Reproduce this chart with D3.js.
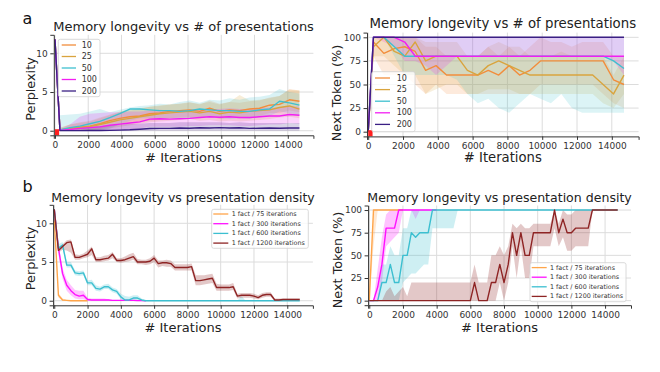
<!DOCTYPE html>
<html>
<head>
<meta charset="utf-8">
<script src="https://cdn.jsdelivr.net/npm/d3@7"></script>
<style>
  body { margin: 0; background: #fff; }
  svg { display: block; font-family: "DejaVu Sans", sans-serif; }
</style>
</head>
<body>
<script>
// ---- panel a: sampled every 600 iterations ----
const itersA = [0,300,900,1500,2100,2700,3300,3900,4500,5100,5700,6300,6900,7500,8100,8700,9300,9900,10500,11100,11700,12300,12900,13500,14100,14700]

const pplx10   = [11.8,0.1,0.3,0.45,0.6,0.9,1.3,1.6,1.8,1.9,2.2,2.3,2.5,2.6,2.7,2.5,2.9,2.5,2.7,2.6,2.8,2.9,3.3,3.4,4.0,3.8]
const pplx10Lo = [11.8,0,0,0,0,0.2,0.5,0.8,1.0,1.1,1.3,1.4,1.6,1.7,1.7,1.6,1.9,1.5,1.7,1.6,1.8,1.9,2.3,2.3,2.6,2.4]
const pplx10Hi = [11.8,0.4,0.8,1.0,1.2,1.6,2.0,2.4,2.6,2.8,3.1,3.2,3.4,3.5,3.7,3.4,3.9,3.5,3.7,3.6,3.8,3.9,4.3,4.5,5.4,5.2]
const pplx25   = [11.8,0.1,0.25,0.4,0.55,0.8,1.1,1.4,1.6,1.8,2.0,2.2,2.3,2.4,2.5,2.3,2.5,2.2,2.4,2.3,2.5,2.6,2.7,3.0,3.2,2.8]
const pplx25Lo = [11.8,0,0,0,0,0.1,0.3,0.5,0.7,0.9,1.1,1.2,1.3,1.4,1.5,1.3,1.4,1.2,1.3,1.2,1.3,1.4,1.5,1.7,1.8,1.6]
const pplx25Hi = [11.8,0.4,0.8,1.1,1.3,1.7,2.1,2.5,2.7,2.9,3.1,3.3,3.4,3.5,3.6,3.5,3.7,3.4,3.7,4.6,3.9,4.0,4.2,4.5,5.3,5.2]
const pplx50   = [11.8,0.1,0.4,0.6,0.9,1.2,1.7,2.2,2.8,2.8,2.7,2.6,2.6,2.5,2.6,2.8,2.7,2.6,2.6,2.5,2.5,2.7,2.8,3.8,3.6,3.3]
const pplx50Lo = [11.8,0,0,0,0,0,0.3,0.8,1.3,1.6,1.6,1.5,1.6,1.5,1.6,1.8,1.7,1.6,1.5,1.6,1.5,1.8,1.9,2.5,2.3,2.0]
const pplx50Hi = [11.8,2.0,2.1,2.2,2.5,2.8,2.4,2.7,3.0,3.2,3.3,3.5,3.4,3.7,3.9,3.6,4.0,3.9,4.2,4.0,4.3,4.4,4.6,5.4,5.0,4.8]
const pplx100   = [11.8,0.05,0.15,0.3,0.4,0.5,0.7,0.85,1.0,1.15,1.5,1.55,1.5,1.55,1.6,1.7,1.8,1.75,1.8,1.7,1.7,1.8,1.9,1.9,2.1,2.0]
const pplx100Lo = [11.8,0,0,0,0,0,0,0.1,0.2,0.3,0.5,0.5,0.5,0.5,0.6,0.6,0.7,0.7,0.7,0.6,0.6,0.7,0.8,0.8,1.0,0.9]
const pplx100Hi = [11.8,0.2,0.8,1.8,2.2,2.3,2.4,2.4,2.5,2.5,2.6,2.7,2.6,2.6,2.7,2.8,2.8,2.8,2.9,2.8,2.8,2.9,3.0,3.0,3.2,3.1]
const pplx200   = [11.8,0.02,0.02,0.02,0.03,0.03,0.05,0.08,0.12,0.2,0.28,0.3,0.3,0.35,0.33,0.38,0.35,0.4,0.35,0.38,0.3,0.32,0.35,0.33,0.35,0.35]
const pplx200Lo = [11.8,0,0,0,0,0,0,0,0,0,0,0,0,0,0,0,0,0,0,0,0,0,0,0,0,0]
const pplx200Hi = [11.8,0.1,0.1,0.3,0.5,0.6,0.7,0.8,0.9,0.9,1.0,1.0,1.0,1.1,1.1,1.1,1.1,1.1,1.0,1.1,1.0,1.0,1.0,1.0,1.0,1.0]

const tok10   = [0,95,83,88,90,85,65,70,60,60,60,60,65,60,70,60,65,75,75,75,75,75,75,75,55,50]
const tok10Lo = [0,80,60,60,60,50,40,50,40,40,40,40,40,40,40,40,40,50,50,50,50,50,50,40,30,25]
const tok10Hi = [0,100,100,100,100,100,90,90,80,80,80,80,90,80,90,80,90,100,95,95,90,95,95,95,80,80]
const tok25   = [0,90,100,85,80,95,75,80,80,80,65,60,70,75,70,65,60,60,60,60,60,60,60,50,40,60]
const tok25Lo = [0,80,80,70,60,60,40,45,50,50,40,40,45,45,45,40,40,40,40,40,40,40,40,30,25,40]
const tok25Hi = [0,100,100,100,100,100,95,95,95,95,80,80,90,95,90,90,80,80,80,85,80,80,80,80,60,80]
const tok50   = [0,100,100,90,80,80,80,80,80,80,80,80,80,80,80,80,80,80,80,80,80,80,80,80,75,67]
const tok50Lo = [0,100,100,80,60,60,60,60,60,55,40,30,35,25,20,30,40,35,30,40,25,20,20,20,20,20]
const tok50Hi = [0,100,100,100,100,100,100,100,100,100,100,100,100,100,100,100,100,100,100,100,100,100,100,100,100,100]
const tok100   = [0,100,100,100,95,80,80,80,80,80,80,80,80,80,80,80,80,80,80,80,80,80,80,80,80,80]
const tok100Lo = [0,100,95,90,75,75,70,60,70,80,80,80,80,80,80,80,80,80,80,80,80,80,80,80,75,60]
const tok100Hi = [0,100,100,100,100,100,100,100,100,100,100,100,100,100,100,100,100,100,100,100,100,100,100,100,100,100]
const tok200   = [0,100,100,100,100,100,100,100,100,100,100,100,100,100,100,100,100,100,100,100,100,100,100,100,100,100]

const presentations = ["10", "25", "50", "100", "200"]
const startMark = [0, 250]

// ---- panel b: sampled every 250 iterations ----
const itersB = [0,250,500,750,1000,1250,1500,1750,2000,2250,2500,2750,3000,3250,3500,3750,4000,4250,4500,4750,5000,5250,5500,5750,6000,6250,6500,6750,7000,7250,7500,7750,8000,8250,8500,8750,9000,9250,9500,9750,10000,10250,10500,10750,11000,11250,11500,11750,12000,12250,12500,12750,13000,13250,13500,13750,14000,14250,14500,14750]

const dens75   = [10.5,0.7,0.1,0.05,0,0,0,0,0]
const dens75Lo = [10.5,0.4,0,0,0,0,0,0,0]
const dens75Hi = [10.5,1.0,0.3,0.1,0,0,0,0,0]
const dens300   = [11.8,6.8,3.5,2.0,1.3,0.8,0.6,0.7,0.15,0.1,0.1,0.1,0.1,0.1,0.05,0.05,0.05,0.05,0.05,0.05,0.02,0.02,0]
const dens300Lo = [11.8,6.0,2.8,1.3,0.7,0.3,0.2,0.2,0,0,0,0,0,0,0,0,0,0,0,0,0,0,0]
const dens300Hi = [11.8,7.5,4.2,2.7,2.0,1.4,1.3,1.3,0.4,0.3,0.3,0.3,0.3,0.2,0.1,0.1,0.1,0.1,0.1,0.1,0.05,0.05,0]
const dens600   = [11.8,6.8,7.2,4.6,4.6,3.6,3.5,3.6,2.3,2.3,1.6,1.5,1.8,1.8,1.4,1.2,0.5,0.1,0.1,0.35,0.35,0.1,0,0,0,0,0,0,0,0,0,0,0,0,0,0,0,0,0,0,0,0,0,0,0,0,0,0,0,0,0,0,0,0,0,0,0,0,0,0]
const dens600Lo = [11.8,6.4,6.8,4.3,4.3,3.3,3.2,3.3,2.0,2.0,1.3,1.2,1.5,1.5,1.1,0.9,0.2,0,0,0,0,0,0,0,0,0,0,0,0,0,0,0,0,0,0,0,0,0,0,0,0,0,0,0,0,0,0,0,0,0,0,0,0,0,0,0,0,0,0,0]
const dens600Hi = [11.8,7.3,7.6,5.0,5.0,3.9,3.8,3.9,2.6,2.7,2.0,1.8,2.1,2.2,1.7,1.5,0.9,0.6,0.5,0.7,0.7,0.3,0,0,0,0,0,0,0,0,0,0,0,0,0,0,0,0,0,0,0,0,0,0,0,0.6,0,0,0,0,0,0,0,0,0,0,0,0,0,0]
const dens1200   = [11.8,6.5,7.0,7.5,7.6,5.6,5.6,5.8,6.0,6.7,5.3,5.3,5.4,5.5,6.0,5.2,5.2,5.3,5.5,5.7,5.0,5.0,5.0,5.1,5.5,4.8,4.9,4.9,4.8,4.3,4.3,4.3,4.3,4.4,2.6,2.6,2.7,2.8,2.9,1.7,1.7,1.7,1.7,1.8,0.6,0.7,0.7,0.7,0.6,0.4,0.7,0.8,0.8,0.1,0.1,0.15,0.15,0.15,0.15,0.15]
const dens1200Lo = [11.8,6.2,6.6,6.5,6.2,5.3,5.3,5.5,5.6,5.9,5.0,5.0,5.1,5.2,5.5,5.0,4.9,5.0,5.1,5.3,4.7,4.7,4.6,4.7,5.0,4.3,4.5,4.4,4.4,3.9,3.9,3.9,3.9,3.9,2.0,2.0,2.1,2.2,2.3,1.3,1.3,1.3,1.3,1.4,0.3,0.4,0.4,0.4,0.3,0.2,0.4,0.5,0.5,0,0,0,0,0,0,0]
const dens1200Hi = [11.8,6.8,7.3,7.8,7.9,6.0,5.9,6.1,6.5,7.0,5.6,5.6,5.8,5.9,6.3,5.5,5.5,5.7,6.0,6.2,5.4,5.3,5.3,5.5,5.9,5.2,5.2,5.3,5.2,4.7,4.7,4.7,4.7,4.8,3.3,3.3,3.3,3.4,3.5,2.2,2.1,2.1,2.1,2.3,0.9,1.0,1.0,1.0,0.9,0.7,1.0,1.1,1.1,0.3,0.3,0.3,0.3,0.3,0.3,0.3]

const nt75   = [0,100,100,100,100,100,100,100,100]
const nt75Lo = [0,60,100,100,100,100,100,100,100]
const nt75Hi = [0,100,100,100,100,100,100,100,100]
const nt300   = [0,0,15,40,80,80,80,100,100,100,100,100,100,100,100,100,100]
const nt300Lo = [0,0,0,20,60,65,70,75,100,100,100,90,100,100,100,100,100]
const nt300Hi = [0,0,35,70,95,100,100,100,100,100,100,100,100,100,100,100,100]
const nt600   = [0,0,0,20,20,40,20,20,50,50,75,70,75,75,75,100,100,100,100,100,100,100,100,100,100,100,100,100,100,100,100,100,100,100,100,100,100,100,100,100,100,100,100,100,100,100,100,100,100,100,100,100,100,100,100,100,100,100,100,100]
const nt600Lo = [0,0,0,0,0,0,0,0,20,25,30,30,35,40,40,80,80,80,80,80,80,100,100,100,100,100,100,100,100,100,100,100,100,100,100,100,100,100,100,100,100,100,100,100,100,100,100,100,100,100,100,100,100,100,100,100,100,100,100,100]
const nt600Hi = [0,0,0,40,40,60,50,50,80,80,100,100,100,100,100,100,100,100,100,100,100,100,100,100,100,100,100,100,100,100,100,100,100,100,100,100,100,100,100,100,100,100,100,100,100,100,100,100,100,100,100,100,100,100,100,100,100,100,100,100]
const nt1200   = [0,0,0,0,0,0,0,0,0,0,0,0,0,0,0,0,0,0,0,0,0,0,0,0,0,20,0,0,0,20,20,40,20,40,75,50,75,50,50,75,75,75,75,75,100,75,90,75,75,80,80,80,80,100,100,100,100,100,100,100]
const nt1200Lo = [0,0,0,0,0,0,0,0,0,0,0,0,0,0,0,0,0,0,0,0,0,0,0,0,0,0,0,0,0,0,0,20,0,20,60,25,60,25,25,60,60,60,60,60,80,60,70,55,55,60,60,60,60,100,100,100,100,100,100,100]
const nt1200Hi = [0,0,0,0,10,15,5,10,15,5,20,20,20,20,20,20,20,20,20,20,20,20,20,20,20,40,20,20,20,50,50,60,50,60,85,80,85,80,80,85,85,85,85,85,100,85,100,95,95,100,100,100,100,100,100,100,100,100,100,100]

const densities = ["1 fact / 75 iterations", "1 fact / 300 iterations", "1 fact / 600 iterations", "1 fact / 1200 iterations"]

const xTicks = [0,2000,4000,6000,8000,10000,12000,14000]
const pplxTicks = [0,5,10]
const tokTicks = [0,25,50,75,100]

const colorsA = ["#f28d3c", "#d9a43e", "#3fc0cf", "#f21ef2", "#3a1f84"]
const colorsB = ["#ffa54a", "#ff10ff", "#3cbfd0", "#8e2424"]

const svg = d3.select("body").append("svg")
    .attr("width", 660)
    .attr("height", 372)

function draw_panel(p) {
  const x = d3.scaleLinear().domain([-70, 15540]).range([p.left, p.right])
  const y = d3.scaleLinear().domain(p.ydomain).range([p.bottom, p.top])
  const g = svg.append("g")

  // grid
  g.append("g").selectAll("line").data(xTicks).join("line")
    .attr("x1", d => x(d)).attr("x2", d => x(d))
    .attr("y1", p.top).attr("y2", p.bottom)
    .attr("stroke", "#dcdcdc").attr("stroke-width", 1)
  g.append("g").selectAll("line").data(p.yticks).join("line")
    .attr("x1", p.left).attr("x2", p.right)
    .attr("y1", d => y(d)).attr("y2", d => y(d))
    .attr("stroke", "#dcdcdc").attr("stroke-width", 1)

  const clip = "clip" + p.id
  g.append("clipPath").attr("id", clip).append("rect")
    .attr("x", p.left).attr("y", p.top)
    .attr("width", p.right - p.left).attr("height", p.bottom - p.top)

  const plot = g.append("g").attr("clip-path", `url(#${clip})`)

  // bands first
  p.series.forEach(s => {
    if (!s.lo) return
    const pts = s.lo.map((v, i) => ({x: p.iters[i], lo: v, hi: s.hi[i]}))
    plot.append("path")
      .datum(pts)
      .attr("fill", s.color)
      .attr("fill-opacity", p.bandAlpha)
      .attr("d", d3.area().x(d => x(d.x)).y0(d => y(d.lo)).y1(d => y(d.hi)))
  })
  // then lines
  p.series.forEach(s => {
    const pts = s.y.map((v, i) => ({x: p.iters[i], v: v}))
    plot.append("path")
      .datum(pts)
      .attr("fill", "none")
      .attr("stroke", s.color)
      .attr("stroke-width", 1.4)
      .attr("stroke-linejoin", "round")
      .attr("d", d3.line().x(d => x(d.x)).y(d => y(d.v)))
  })

  if (p.mark) {
    g.append("rect")
      .attr("x", x(startMark[0]))
      .attr("width", x(startMark[1]) - x(startMark[0]))
      .attr("y", y(0) - 1.5)
      .attr("height", p.bottom - y(0) + 1.5)
      .attr("fill", "#ff2020")
  }

  // axes
  const xa = g.append("g")
    .attr("transform", `translate(0,${p.bottom})`)
    .call(d3.axisBottom(x).tickValues(xTicks).tickFormat(d3.format("d"))
      .tickSizeOuter(0).tickSize(3.5).tickPadding(2.5))
  const ya = g.append("g")
    .attr("transform", `translate(${p.left},0)`)
    .call(d3.axisLeft(y).tickValues(p.yticks).tickFormat(d3.format("d"))
      .tickSizeOuter(0).tickSize(3.5).tickPadding(2.5))
  ;[xa, ya].forEach(a => {
    a.attr("font-family", "DejaVu Sans").attr("font-size", 9)
    a.selectAll("text").attr("fill", "#333")
    a.selectAll("line").attr("stroke", "#333")
    a.select(".domain").attr("stroke", "#333")
  })

  // texts
  g.append("text")
    .attr("x", (p.left + p.right) / 2).attr("y", p.titleY)
    .attr("text-anchor", "middle").attr("font-size", p.titleSize).attr("fill", "#222")
    .text(p.title)
  g.append("text")
    .attr("x", (p.left + p.right) / 2).attr("y", p.xlabelY)
    .attr("text-anchor", "middle").attr("font-size", p.xlabelSize).attr("fill", "#222")
    .text("# Iterations")
  g.append("text")
    .attr("transform", `translate(${p.ylabelX},${p.ylabelCY}) rotate(-90)`)
    .attr("text-anchor", "middle").attr("font-size", p.ylabelSize).attr("fill", "#222")
    .text(p.ylabel)

  // legend
  const L = p.legend
  const lg = g.append("g")
  lg.append("rect")
    .attr("x", L.x).attr("y", L.y).attr("width", L.w).attr("height", L.h)
    .attr("rx", 2).attr("fill", "#fff").attr("fill-opacity", 0.8)
    .attr("stroke", "#d0d0d0").attr("stroke-width", 0.8)
  p.series.forEach((s, i) => {
    const ry = L.row0 + i * L.step
    lg.append("line")
      .attr("x1", L.x + L.lineX0).attr("x2", L.x + L.lineX1)
      .attr("y1", ry).attr("y2", ry)
      .attr("stroke", s.color).attr("stroke-width", 1.3)
    lg.append("text")
      .attr("x", L.x + L.textX).attr("y", ry)
      .attr("dominant-baseline", "central")
      .attr("font-size", L.size).attr("fill", "#333")
      .text(s.name)
  })
}

const seriesA1 = [
  {y: pplx10, lo: pplx10Lo, hi: pplx10Hi},
  {y: pplx25, lo: pplx25Lo, hi: pplx25Hi},
  {y: pplx50, lo: pplx50Lo, hi: pplx50Hi},
  {y: pplx100, lo: pplx100Lo, hi: pplx100Hi},
  {y: pplx200, lo: pplx200Lo, hi: pplx200Hi},
].map((s, i) => ({...s, name: presentations[i], color: colorsA[i]}))

const seriesA2 = [
  {y: tok10, lo: tok10Lo, hi: tok10Hi},
  {y: tok25, lo: tok25Lo, hi: tok25Hi},
  {y: tok50, lo: tok50Lo, hi: tok50Hi},
  {y: tok100, lo: tok100Lo, hi: tok100Hi},
  {y: tok200},
].map((s, i) => ({...s, name: presentations[i], color: colorsA[i]}))

const seriesB1 = [
  {y: dens75, lo: dens75Lo, hi: dens75Hi},
  {y: dens300, lo: dens300Lo, hi: dens300Hi},
  {y: dens600, lo: dens600Lo, hi: dens600Hi},
  {y: dens1200, lo: dens1200Lo, hi: dens1200Hi},
].map((s, i) => ({...s, name: densities[i], color: colorsB[i]}))

const seriesB2 = [
  {y: nt75, lo: nt75Lo, hi: nt75Hi},
  {y: nt300, lo: nt300Lo, hi: nt300Hi},
  {y: nt600, lo: nt600Lo, hi: nt600Hi},
  {y: nt1200, lo: nt1200Lo, hi: nt1200Hi},
].map((s, i) => ({...s, name: densities[i], color: colorsB[i]}))

draw_panel({
  id: "a1", iters: itersA, series: seriesA1, mark: true, bandAlpha: 0.2,
  left: 53.8, right: 313.4, top: 34.8, bottom: 135.3,
  ydomain: [-0.59, 12.39], yticks: pplxTicks,
  title: "Memory longevity vs # of presentations", titleY: 30.5, titleSize: 13,
  xlabelY: 161.5, xlabelSize: 13, ylabel: "Perplexity", ylabelX: 34.5, ylabelCY: 89, ylabelSize: 12.8,
  legend: {x: 58.3, y: 39.3, w: 41.7, h: 57.4, row0: 45, step: 11.5, lineX0: 3.4, lineX1: 17.7, textX: 23.4, size: 8}
})

draw_panel({
  id: "a2", iters: itersA, series: seriesA2, mark: true, bandAlpha: 0.18,
  left: 367.0, right: 638.6, top: 32.6, bottom: 136.4,
  ydomain: [-5, 105], yticks: tokTicks,
  title: "Memory longevity vs # of presentations", titleY: 28, titleSize: 13.3,
  xlabelY: 162, xlabelSize: 13.2, ylabel: "Next Token (%)", ylabelX: 340.5, ylabelCY: 93, ylabelSize: 12.8,
  legend: {x: 371.7, y: 71.7, w: 43.3, h: 60, row0: 78, step: 11.6, lineX0: 3.3, lineX1: 18.3, textX: 25, size: 8}
})

draw_panel({
  id: "b1", iters: itersB, series: seriesB1, mark: false, bandAlpha: 0.25,
  left: 53.1, right: 312.9, top: 204.8, bottom: 305.3,
  ydomain: [-0.59, 12.39], yticks: pplxTicks,
  title: "Memory longevity vs presentation density", titleY: 202, titleSize: 12.5,
  xlabelY: 331.5, xlabelSize: 13, ylabel: "Perplexity", ylabelX: 34.5, ylabelCY: 258.5, ylabelSize: 12.8,
  legend: {x: 211.7, y: 209.3, w: 96.6, h: 39, row0: 214, step: 9.7, lineX0: 1.6, lineX1: 16.6, textX: 20, size: 6.4}
})

draw_panel({
  id: "b2", iters: itersB, series: seriesB2, mark: false, bandAlpha: 0.25,
  left: 368.1, right: 631.0, top: 205.5, bottom: 305.2,
  ydomain: [-5, 105], yticks: tokTicks,
  title: "Memory longevity vs presentation density", titleY: 202, titleSize: 12.55,
  xlabelY: 331.5, xlabelSize: 13, ylabel: "Next Token (%)", ylabelX: 341.5, ylabelCY: 260, ylabelSize: 12.8,
  legend: {x: 530, y: 262.7, w: 96, h: 39, row0: 267.6, step: 9.6, lineX0: 1.7, lineX1: 16.7, textX: 20, size: 6.4}
})

// panel letters
svg.append("text").attr("x", 22.5).attr("y", 24).attr("font-size", 16).attr("fill", "#111").text("a")
svg.append("text").attr("x", 22.5).attr("y", 191.5).attr("font-size", 16).attr("fill", "#111").text("b")
</script>
</body>
</html>
